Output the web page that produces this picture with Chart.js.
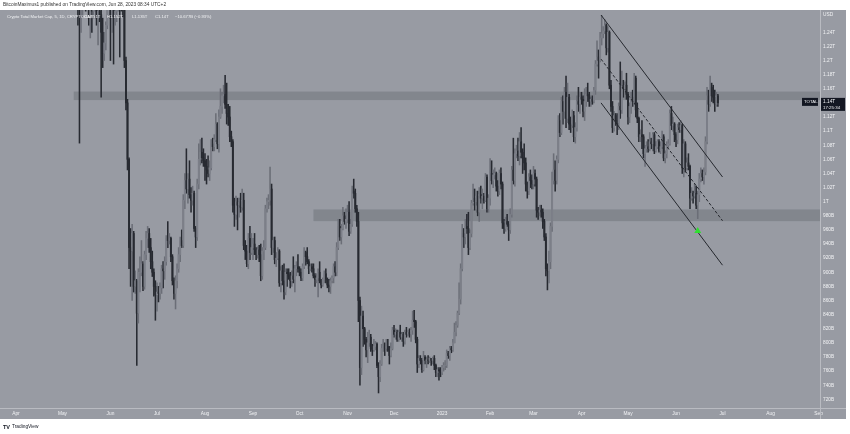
<!DOCTYPE html>
<html>
<head>
<meta charset="utf-8">
<script src="https://cdn.jsdelivr.net/npm/chart.js@4"></script>
<style>
html, body { margin: 0; padding: 0; background: #fff; }
canvas { display: block; }
</style>
</head>
<body>
<canvas id="chart" width="850" height="434"></canvas>
<script>
// ==============================
// Crypto Total Market Cap (1D)
// values in billions of USD
// ==============================

// day index counted from 1 Apr 2022
const firstDay = 38;      // 9 May 2022
const firstOpen = 1520;

// one line per month, May 2022 .. Jun 2023
const closes = [
  1400,1380,1300,1280,1310,1320,1360,1300,1320,1260,1290,1270,1280,1300,1260,1270,1265,1240,1210,1225,1250,1340,1330,
  1260,1290,1260,1270,1275,1320,1300,1280,1275,1200,1140,1060,935,930,955,880,888,842,900,900,912,880,925,948,955,935,915,900,880,868,
  872,870,878,905,902,915,948,945,948,922,888,870,888,905,925,945,938,1002,1030,1018,1032,1010,1002,1012,962,950,1025,1060,1070,1062,1058,
  1050,1045,1040,1048,1082,1078,1088,1110,1082,1120,1135,1150,1152,1138,1125,1120,1092,1085,995,982,1000,995,1000,992,1002,938,930,912,948,928,935,
  940,932,925,932,925,895,930,935,990,1000,1002,1018,935,945,918,920,930,885,902,888,872,900,898,895,888,895,890,905,908,905,
  900,892,908,928,922,915,905,908,905,895,890,892,900,888,882,890,898,890,882,880,888,892,908,900,935,965,950,962,980,972,975,
  985,958,968,1015,1012,990,972,860,765,838,820,805,790,800,808,792,790,795,798,768,752,770,792,795,792,795,790,782,792,818,
  812,815,805,815,808,812,802,815,812,815,812,818,832,830,805,770,778,775,762,780,775,776,775,778,775,778,768,758,762,760,758,
  765,768,768,785,782,792,790,800,815,825,842,862,905,955,950,965,962,935,955,998,1005,1000,1008,985,1010,1005,1008,1002,1035,990,1005,
  1040,1030,1038,1040,1022,1015,1040,1025,970,962,972,968,960,982,1045,1030,1068,1072,1065,1085,1070,1062,1055,1025,1015,1035,1030,1025,
  1040,1032,988,985,988,985,972,950,905,902,915,965,1030,1045,1030,1060,1115,1098,1142,1128,1155,1118,1148,1110,1108,1122,1092,1105,1142,1138,1148,
  1145,1128,1142,1152,1150,1142,1145,1142,1158,1195,1205,1200,1232,1238,1242,1250,1218,1240,1165,1135,1105,1122,1115,1112,1135,1130,1165,1160,1165,1152,
  1120,1135,1148,1142,1175,1130,1118,1092,1095,1092,1068,1075,1078,1075,1085,1082,1095,1072,1078,1085,1072,1078,1092,1062,1068,1080,1082,1125,1108,1110,1095,
  1088,1105,1102,1108,1048,1082,1048,1055,1050,1005,1012,1008,1012,995,1010,1032,1040,1035,1042,1085,1150,1138,1162,1150,1148,1138,1150,1140
];

const highs = [
  1560,1460,1420,1330,1350,1345,1370,1360,1340,1330,1300,1320,1290,1310,1330,1290,1300,1280,1260,1240,1255,1350,1360,
  1340,1300,1300,1280,1290,1345,1320,1310,1290,1280,1205,1145,1062,962,968,958,902,890,905,922,945,915,930,958,965,962,948,930,905,888,
  885,880,885,910,915,922,952,972,955,950,925,892,895,912,935,950,960,1010,1040,1075,1040,1058,1020,1022,1015,965,1032,1082,1088,1090,1075,
  1068,1060,1065,1058,1088,1090,1095,1125,1112,1130,1160,1155,1165,1179,1168,1138,1135,1100,1088,1005,1008,1005,1005,1012,1018,1012,945,938,955,965,955,
  948,955,935,936,938,940,935,945,995,1005,1010,1049,1025,950,950,928,935,932,908,910,912,905,905,905,900,902,922,910,915,925,
  908,905,912,935,930,935,918,912,912,912,898,898,905,915,890,892,902,905,892,890,892,895,912,915,942,975,975,968,992,985,990,
  995,1000,975,1022,1032,1018,995,985,865,852,845,822,808,815,818,812,798,805,802,800,772,775,798,805,800,805,805,795,800,822,
  825,820,818,818,825,815,815,818,822,818,820,822,845,846,832,808,782,782,778,788,782,780,782,780,778,780,782,770,765,765,765,
  768,772,775,790,788,795,795,805,828,830,845,885,912,968,962,975,982,985,960,1002,1025,1018,1015,1015,1020,1022,1018,1012,1040,1038,1010,
  1061,1058,1045,1048,1042,1030,1045,1048,1028,975,978,982,972,990,1050,1090,1075,1080,1090,1098,1105,1075,1082,1062,1028,1040,1045,1038,
  1050,1045,1035,992,995,995,990,975,955,912,930,970,1042,1068,1058,1065,1122,1125,1148,1150,1162,1178,1168,1152,1120,1130,1128,1112,1150,1162,1155,
  1155,1150,1160,1162,1168,1155,1148,1150,1162,1200,1228,1215,1240,1264,1248,1258,1252,1248,1242,1172,1142,1128,1125,1125,1140,1198,1185,1172,1170,1182,
  1155,1140,1155,1158,1182,1178,1140,1120,1102,1115,1095,1080,1085,1088,1098,1090,1098,1098,1085,1088,1088,1085,1100,1095,1072,1085,1088,1130,1135,1120,1112,
  1098,1110,1112,1115,1110,1088,1085,1062,1068,1052,1020,1015,1025,1022,1015,1040,1048,1045,1048,1092,1162,1158,1178,1168,1165,1158,1155,1152
];

const lows = [
  1390,1330,1250,1083,1240,1262,1290,1270,1280,1250,1232,1240,1260,1270,1250,1222,1255,1148,1190,1200,1215,1245,1300,
  1200,1240,1195,1250,1255,1270,1205,1270,1262,1190,1130,1045,905,880,860,872,870,768,828,872,895,874,876,918,935,928,905,894,866,832,
  845,858,862,870,878,890,910,935,940,915,882,862,848,878,900,915,935,935,990,1012,998,1005,985,995,958,935,945,1018,1052,1055,1050,
  1030,1025,1035,1030,1045,1072,1072,1085,1075,1070,1118,1125,1140,1132,1110,1108,1085,1078,985,965,975,960,978,985,988,932,918,908,905,918,925,
  918,925,918,920,915,888,890,918,932,985,990,995,925,928,912,908,918,880,872,882,862,868,880,890,878,880,885,872,895,900,
  895,888,888,905,910,912,898,902,900,892,880,885,865,885,878,880,885,885,878,872,870,885,885,895,895,932,945,940,960,968,962,
  970,952,955,965,1005,985,965,830,740,755,795,798,780,772,795,788,782,788,790,765,729,745,768,788,782,788,788,770,780,790,
  808,805,802,802,805,802,795,798,808,810,808,802,812,822,800,758,765,770,758,760,770,765,770,772,768,770,762,752,752,747,752,
  755,760,762,765,778,775,786,788,800,810,822,840,855,902,935,940,955,925,932,950,995,988,995,980,972,998,990,998,1000,985,985,
  995,1025,1020,1032,1015,1008,1010,1018,962,955,958,965,945,955,978,1025,1022,1062,1058,1052,1062,1040,1045,1015,1005,1010,1020,1018,
  1018,1022,978,975,980,978,962,945,895,875,885,905,958,1025,1015,1025,1055,1092,1095,1110,1118,1105,1112,1102,1098,1105,1085,1083,1100,1128,1125,
  1138,1120,1115,1135,1142,1135,1135,1138,1140,1152,1192,1175,1198,1222,1232,1238,1208,1212,1160,1128,1098,1100,1108,1095,1102,1118,1125,1148,1158,1145,
  1110,1112,1125,1135,1138,1120,1112,1085,1085,1075,1062,1050,1070,1070,1072,1075,1072,1068,1070,1075,1070,1068,1075,1058,1055,1062,1075,1080,1102,1100,1085,
  1078,1082,1098,1098,1040,1035,1042,1045,1045,990,1002,998,1005,990,976,1000,1028,1030,1025,1038,1082,1128,1135,1142,1140,1128,1135,1135
];

// time axis
const monthDays = [0, 30, 61, 91, 122, 153, 183, 214, 244, 275, 306, 334, 365, 395, 426, 456, 487, 518];
const monthLabels = ["Apr", "May", "Jun", "Jul", "Aug", "Sep", "Oct", "Nov", "Dec", "2023", "Feb", "Mar", "Apr", "May", "Jun", "Jul", "Aug", "Sep"];

// price axis
const priceTicks = [720, 740, 760, 780, 800, 820, 840, 860, 880, 900, 920, 940, 960, 980,
  1000, 1020, 1040, 1060, 1080, 1100, 1120, 1140, 1160, 1180, 1200, 1220, 1240];
const lastPrice = 1140;

// drawings: zones [from day, low, high] and channel lines [day, value]
const resistanceZone = [37.3, 1144, 1156];
const supportZone = [192, 972.5, 989];
const channelUpper = [[377.6, 1264.5], [456, 1035]];
const channelMiddle = [[377.6, 1202], [456, 973]];
const channelLower = [[377.6, 1140], [456, 910]];
const signalPoint = [440, 958.5];

// colours
const BG = "#989ba3";
const ZONE = "rgba(70, 72, 82, 0.26)";
const UP_WICK = "#6b6e77";
const UP_BODY = "#7c7f88";
const DOWN = "#272a31";
const LIGHT = "#f1f2f4";
const LINE = "#25282e";

// === candles ===
const opens = closes.map((c, i) => (i === 0 ? firstOpen : closes[i - 1]));
const isUp = closes.map((c, i) => c >= opens[i]);
const wicks = closes.map((c, i) => ({ x: firstDay + i, y: [lows[i], highs[i]] }));
const bodies = closes.map((c, i) => ({ x: firstDay + i, y: [opens[i], c] }));

const toXY = (pts) => pts.map((p) => ({ x: p[0], y: p[1] }));

function fmtPrice(v) {
    return v >= 1000 ? parseFloat((v / 1000).toFixed(2)) + "T" : v + "B";
}

const axisFont = { size: 4.8, family: "'Liberation Sans', Arial, sans-serif" };

// === panel, zones, labels ===
const panel = {
    id: "panel",
    beforeDraw(chart) {
        const c = chart.ctx;
        c.save();
        c.fillStyle = "#ffffff";
        c.fillRect(0, 0, chart.width, chart.height);
        c.fillStyle = BG;
        c.fillRect(0, 10, 846, 409);
        c.restore();
    },
    beforeDatasetsDraw(chart) {
        const { ctx: c, chartArea: a, scales } = chart;
        c.save();
        c.fillStyle = ZONE;
        [resistanceZone, supportZone].forEach((z) => {
            const left = scales.x.getPixelForValue(z[0]);
            const top = scales.y.getPixelForValue(z[2]);
            const bottom = scales.y.getPixelForValue(z[1]);
            c.fillRect(left, top, a.right - left, bottom - top);
        });
        c.restore();
    },
    afterDraw(chart) {
        const { ctx: c, chartArea: a, scales } = chart;
        c.save();
        // axis separators
        c.strokeStyle = "#b9bbc1";
        c.lineWidth = 1;
        c.beginPath();
        c.moveTo(Math.round(a.right) + 0.5, 10);
        c.lineTo(Math.round(a.right) + 0.5, 419);
        c.moveTo(0, Math.round(a.bottom) + 0.5);
        c.lineTo(846, Math.round(a.bottom) + 0.5);
        c.stroke();

        c.textBaseline = "middle";
        c.font = "4.8px 'Liberation Sans', Arial, sans-serif";
        c.fillStyle = "#333333";
        c.fillText("BitcoinMaximus1 published on TradingView.com, Jun 28, 2023 08:34 UTC+2", 3, 5);

        c.font = "4.2px 'Liberation Sans', Arial, sans-serif";
        c.fillStyle = LIGHT;
        c.fillText("Crypto Total Market Cap, 5, 1D, CRYPTOCAP", 7, 17);
        c.fillText("O1.151T", 84, 17);
        c.fillText("H1.152T", 107, 17);
        c.fillText("L1.135T", 132, 17);
        c.fillText("C1.14T", 155, 17);
        c.fillText("\u221210.677B (\u22120.93%)", 175, 17);

        c.font = "4.8px 'Liberation Sans', Arial, sans-serif";
        c.fillText("USD", a.right + 3, 15);

        // last price tag
        const py = scales.y.getPixelForValue(lastPrice);
        c.fillStyle = "#131722";
        c.fillRect(a.right + 1, py - 5, 24, 13);
        c.fillRect(a.right - 18, py - 5, 16, 8);
        c.fillStyle = LIGHT;
        c.fillText(fmtPrice(lastPrice), a.right + 3, py - 1.5);
        c.font = "4.4px 'Liberation Sans', Arial, sans-serif";
        c.fillText("17:25:34", a.right + 3, py + 4.5);
        c.fillText("TOTAL", a.right - 16, py - 1);

        // footer
        c.fillStyle = "#131722";
        c.font = "bold 5.5px 'Liberation Sans', Arial, sans-serif";
        c.fillText("TV", 3, 427);
        c.font = "4.8px 'Liberation Sans', Arial, sans-serif";
        c.fillText("TradingView", 12, 427);
        c.restore();
    },
};

const ctx = document.getElementById("chart").getContext("2d");
new Chart(ctx, {
    type: "bar",
    data: {
        datasets: [{
                type: "scatter",
                data: [{ x: signalPoint[0], y: signalPoint[1] }],
                pointStyle: "triangle",
                pointRadius: 4,
                backgroundColor: "#2fe02f",
                borderWidth: 0,
                order: 0,
            },
            {
                type: "line",
                data: toXY(channelUpper),
                borderColor: LINE,
                borderWidth: 1,
                pointRadius: 0,
                order: 1,
            },
            {
                type: "line",
                data: toXY(channelLower),
                borderColor: LINE,
                borderWidth: 1,
                pointRadius: 0,
                order: 1,
            },
            {
                type: "line",
                data: toXY(channelMiddle),
                borderColor: LINE,
                borderWidth: 1,
                borderDash: [3, 2],
                pointRadius: 0,
                order: 1,
            },
            {
                type: "bar",
                data: bodies,
                backgroundColor: isUp.map((u) => (u ? UP_BODY : DOWN)),
                barThickness: 1.3,
                grouped: false,
                order: 2,
            },
            {
                type: "bar",
                data: wicks,
                backgroundColor: isUp.map((u) => (u ? UP_WICK : DOWN)),
                barThickness: 0.9,
                grouped: false,
                order: 3,
            },
        ],
    },
    options: {
        responsive: false,
        animation: false,
        devicePixelRatio: 1,
        layout: { padding: { top: 10, bottom: 15, left: 0, right: 4 } },
        plugins: {
            legend: { display: false },
            tooltip: { enabled: false },
        },
        scales: {
            x: {
                type: "linear",
                min: -7.7,
                max: 518.9,
                offset: false,
                grid: { display: false, drawTicks: false },
                border: { display: false },
                afterBuildTicks: (s) => { s.ticks = monthDays.map((v) => ({ value: v })); },
                afterFit: (s) => { s.height = 11; },
                ticks: {
                    autoSkip: false,
                    maxRotation: 0,
                    padding: 3,
                    color: LIGHT,
                    font: axisFont,
                    callback: (v) => monthLabels[monthDays.indexOf(v)],
                },
            },
            y: {
                position: "right",
                min: 707.7,
                max: 1271.6,
                grid: { display: false, drawTicks: false },
                border: { display: false },
                afterBuildTicks: (s) => { s.ticks = priceTicks.map((v) => ({ value: v })); },
                afterFit: (s) => { s.width = 26; },
                ticks: {
                    padding: 3,
                    color: LIGHT,
                    font: axisFont,
                    callback: (v) => fmtPrice(v),
                },
            },
        },
    },
    plugins: [panel],
});
</script>
</body>
</html>
